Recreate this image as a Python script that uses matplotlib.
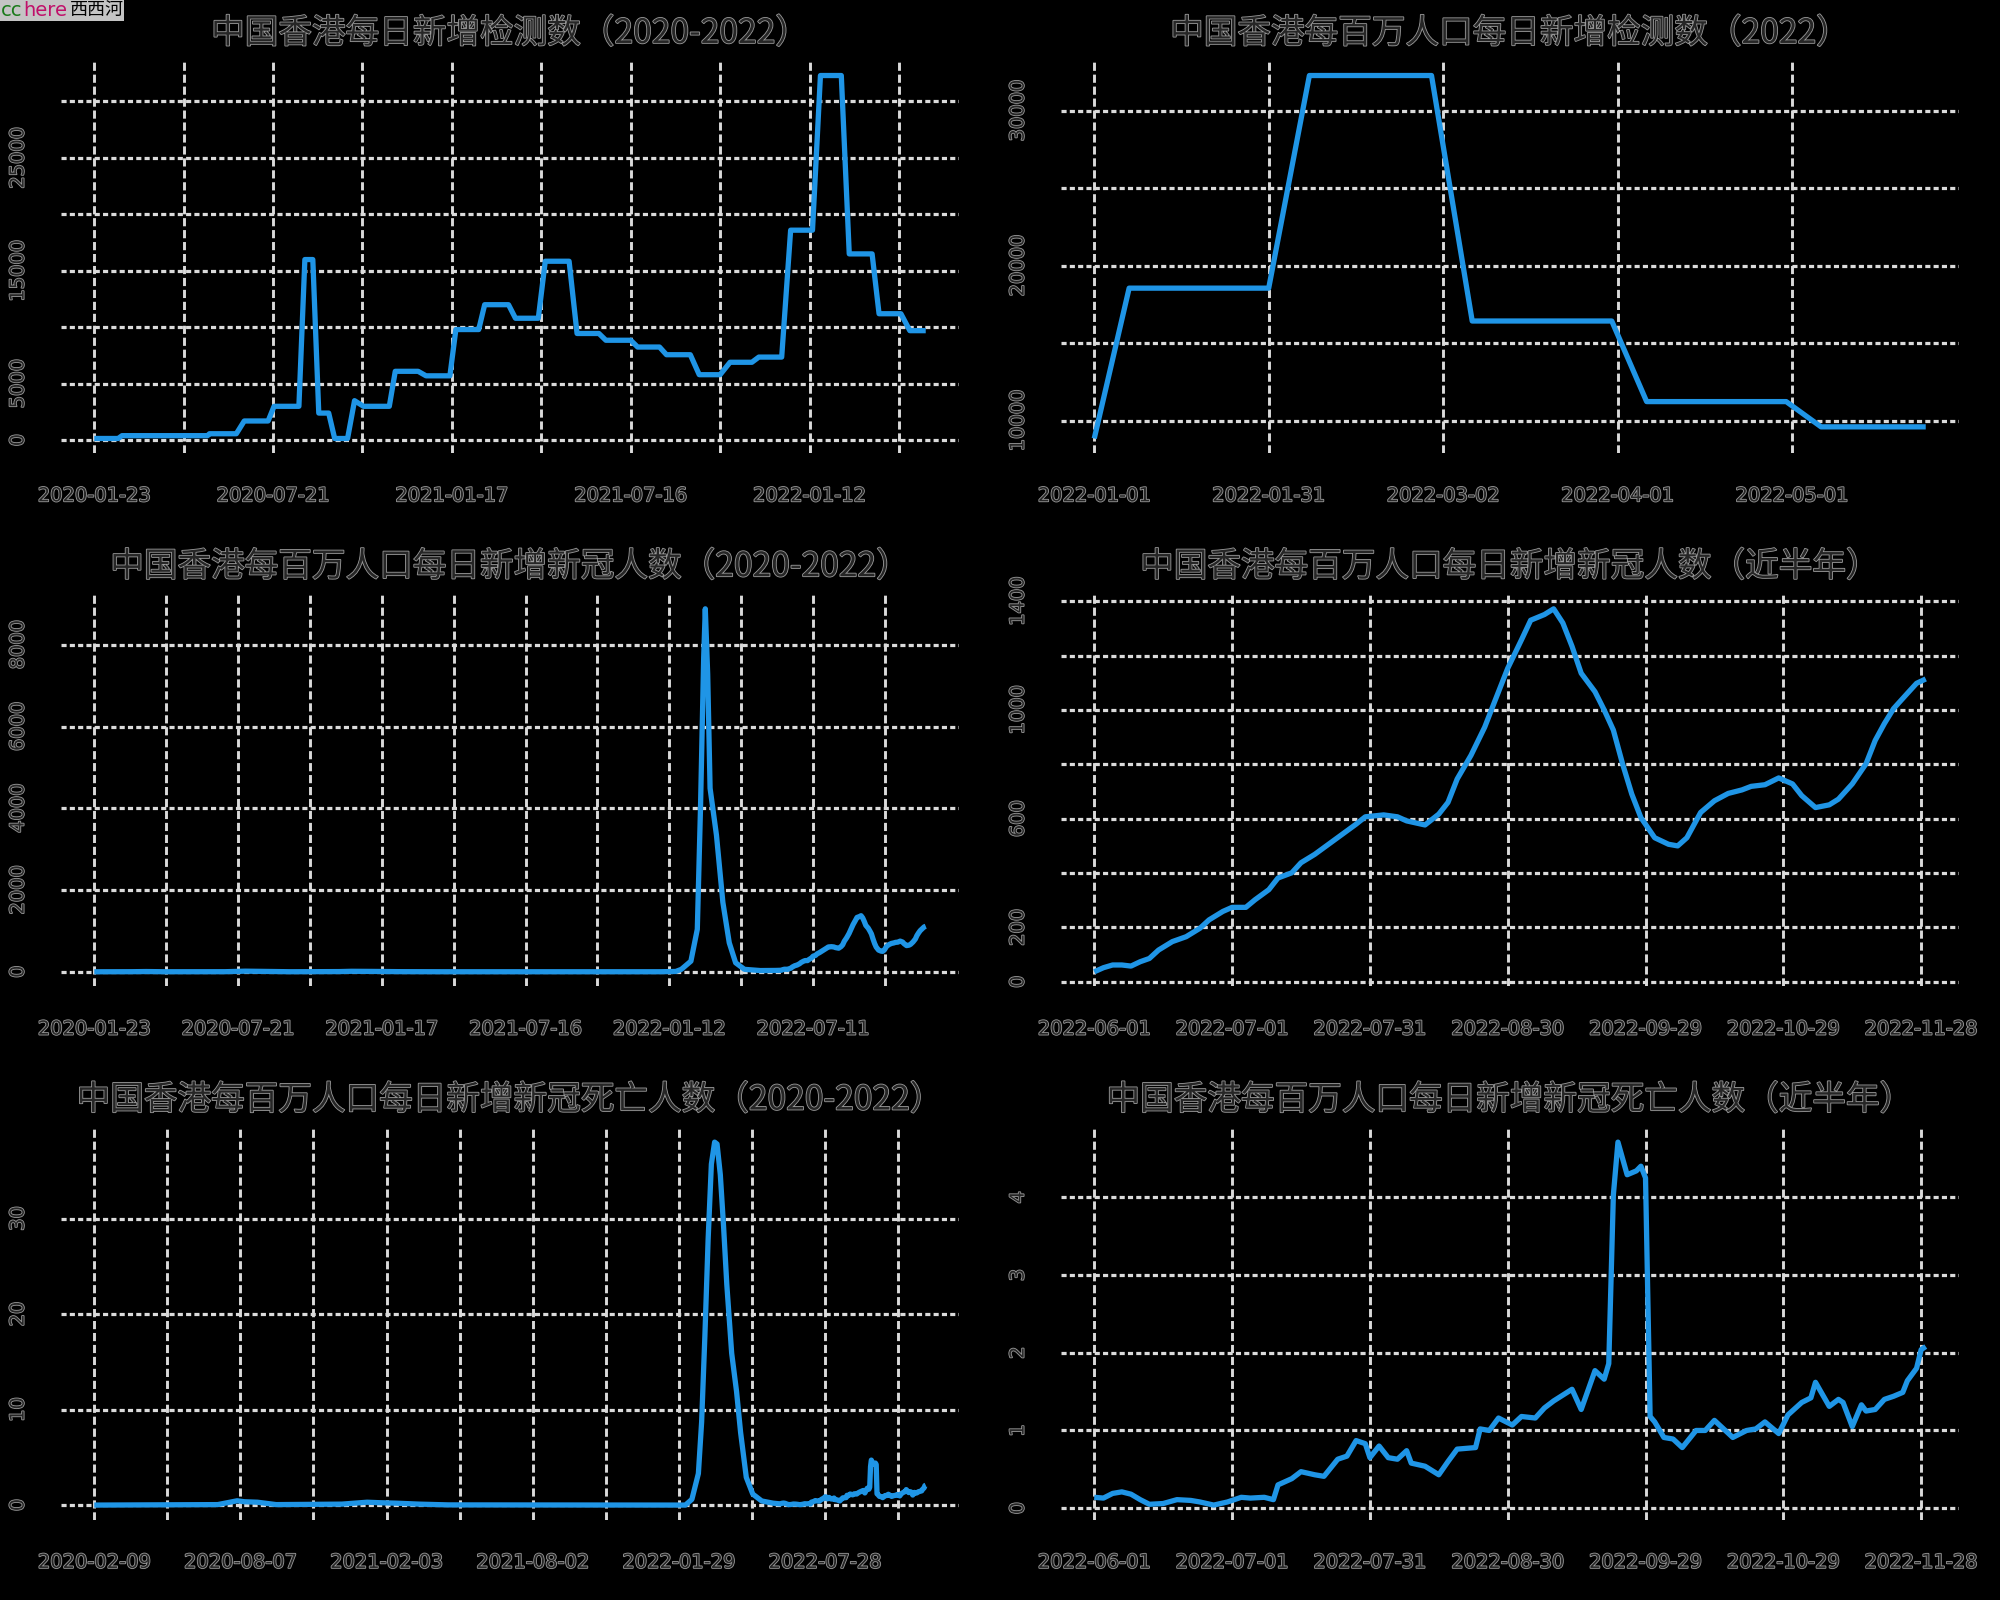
import numpy as np
import matplotlib
matplotlib.use("Agg")
import matplotlib.pyplot as plt
import matplotlib.patheffects as pe
from matplotlib.patches import Rectangle

plt.rcParams['font.family'] = ['DejaVu Sans', 'Noto Sans CJK SC']

BLUE = "#1f95e6"
GRID = "#dadada"
TEXT = "#262626"
HALO = [pe.withStroke(linewidth=1.2, foreground="#9a9a9a")]
CJK = ['Noto Sans CJK SC', 'DejaVu Sans']

# ---- panel 1: daily tests 2020-2022
tests_dates = ['2020-01-23', '2020-02-16', '2020-02-20', '2020-05-16', '2020-05-18', '2020-06-14',
               '2020-06-22', '2020-07-16', '2020-07-22', '2020-08-16', '2020-08-22', '2020-08-30',
               '2020-09-05', '2020-09-15', '2020-09-21', '2020-10-04', '2020-10-11', '2020-10-20',
               '2020-11-15', '2020-11-21', '2020-12-14', '2020-12-22', '2021-01-15', '2021-01-21',
               '2021-02-13', '2021-02-19', '2021-03-15', '2021-03-22', '2021-04-14', '2021-04-21',
               '2021-05-15', '2021-05-23', '2021-06-14', '2021-06-21', '2021-07-16', '2021-07-23',
               '2021-08-14', '2021-08-21', '2021-09-14', '2021-09-23', '2021-10-14', '2021-10-24',
               '2021-11-15', '2021-11-22', '2021-12-15', '2021-12-24', '2022-01-15', '2022-01-23',
               '2022-02-13', '2022-02-21', '2022-03-16', '2022-03-23', '2022-04-14', '2022-04-23',
               '2022-05-09']
tests_vals = [150, 150, 400, 400, 570, 570, 1700, 1700, 3000, 3000, 16000, 16000,
              2400, 2400, 150, 150, 3500, 3000, 3000, 6100, 6100, 5700, 5700, 9800,
              9800, 12000, 12000, 10800, 10800, 15850, 15850, 9450, 9450, 8850, 8850, 8250,
              8250, 7570, 7570, 5800, 5800, 6900, 6900, 7360, 7360, 18600, 18600, 32300,
              32300, 16500, 16500, 11200, 11200, 9700, 9700]

# ---- panel 2: tests per million, 2022
tpm_dates = ['2022-01-01', '2022-01-07', '2022-01-31', '2022-02-07', '2022-02-28', '2022-03-07',
             '2022-03-31', '2022-04-06', '2022-04-30', '2022-05-06', '2022-05-24']
tpm_vals = [8850, 18550, 18550, 32270, 32270, 16430, 16430, 11230, 11230, 9600, 9600]

# ---- cases per million, 2020 .. 2022-05
cases_early_dates = ['2020-01-23', '2020-03-10', '2020-03-28', '2020-04-20', '2020-07-05', '2020-07-30',
                     '2020-08-20', '2020-09-25', '2020-11-25', '2020-12-10', '2021-01-05', '2021-02-10',
                     '2021-04-01', '2021-12-31', '2022-01-20', '2022-01-27', '2022-02-08', '2022-02-16',
                     '2022-02-20', '2022-02-24', '2022-02-26', '2022-03-01', '2022-03-04', '2022-03-12',
                     '2022-03-20', '2022-03-28', '2022-04-05', '2022-04-16', '2022-05-06', '2022-05-25']
cases_early_vals = [0, 2, 6, 1, 2, 15, 10, 1, 5, 12, 9, 3,
                    1, 1, 8, 60, 260, 1040, 4000, 7700, 8880, 7280, 4490, 3340,
                    1700, 710, 220, 60, 30, 33]

# ---- cases per million, last half year (days after 2022-06-01)
recent_start = '2022-06-01'
cases_days = [0, 2, 4, 6, 8, 10, 12, 14, 17, 20, 23, 25, 28, 30, 33, 35, 38, 40, 43, 45,
              48, 51, 54, 57, 59, 63, 66, 68, 72, 75, 77, 79, 82, 85, 87, 90, 93, 95, 98, 100,
              102, 104, 106, 109, 111, 113, 115, 117, 119, 122, 125, 127, 129, 132, 135, 138,
              141, 143, 146, 149, 152, 154, 157, 160, 162, 165, 168, 170, 172, 174, 177, 179, 181]
cases_vals = [37, 52, 62, 62, 58, 74, 86, 117, 148, 166, 197, 228, 259, 274, 274, 302, 339, 382, 401, 438,
              469, 506, 543, 580, 607, 614, 607, 592, 577, 617, 660, 746, 833, 937, 1024, 1153, 1258, 1330, 1351, 1372,
              1320, 1234, 1135, 1067, 1000, 926, 802, 691, 604, 530, 506, 500, 530, 623, 666, 693,
              706, 719, 725, 750, 728, 685, 641, 651, 672, 728, 802, 888, 950, 1005, 1061, 1098, 1114]

# ---- deaths per million, 2020 .. 2022-05
deaths_early_dates = ['2020-02-09', '2020-07-10', '2020-08-03', '2020-08-12', '2020-08-28', '2020-09-20',
                      '2020-12-10', '2021-01-10', '2021-01-25', '2021-02-15', '2021-03-15', '2021-04-20',
                      '2022-02-06', '2022-02-14', '2022-02-22', '2022-02-26', '2022-03-02', '2022-03-06',
                      '2022-03-10', '2022-03-14', '2022-03-17', '2022-03-21', '2022-03-25', '2022-03-29',
                      '2022-04-04', '2022-04-10', '2022-04-15', '2022-04-22', '2022-04-30', '2022-05-11',
                      '2022-05-25']
deaths_early_vals = [0, 0.05, 0.45, 0.35, 0.3, 0.05, 0.1, 0.3, 0.25, 0.2, 0.1, 0.02,
                     0, 0.6, 3.3, 8.7, 17.7, 27.8, 35.7, 38.0, 37.8, 34.6, 29.2, 23.1,
                     15.9, 11.9, 7.6, 2.9, 1.15, 0.43, 0.2]

# ---- deaths per million, last half year (days after 2022-06-01)
deaths_days = [0, 2, 4, 6, 8, 10, 12, 15, 18, 21, 23, 26, 29, 32, 34, 37, 39, 40, 43, 45,
               48, 50, 53, 55, 57, 59, 60, 62, 64, 66, 68, 69, 72, 75, 77, 79, 83, 84, 86, 88,
               91, 93, 96, 98, 100, 104, 106, 109, 111, 112, 113, 114, 116, 118, 119, 120, 121, 122,
               124, 126, 128, 131, 133, 135, 137, 139, 142, 144, 146, 149, 151, 154, 156, 157, 160,
               162, 163, 165, 167, 168, 170, 172, 174, 176, 177, 179, 180, 181]
deaths_vals = [0.14, 0.13, 0.19, 0.21, 0.18, 0.11, 0.05, 0.06, 0.11, 0.10, 0.08, 0.04, 0.08, 0.14, 0.13, 0.14, 0.11, 0.30, 0.38, 0.47,
               0.43, 0.41, 0.63, 0.67, 0.87, 0.83, 0.65, 0.80, 0.65, 0.63, 0.74, 0.58, 0.54, 0.43, 0.60, 0.76, 0.78, 1.02, 1.00, 1.16,
               1.07, 1.18, 1.16, 1.29, 1.38, 1.53, 1.27, 1.77, 1.66, 1.86, 4.03, 4.71, 4.29, 4.34, 4.40, 4.25, 1.18, 1.11,
               0.91, 0.89, 0.78, 1.00, 1.00, 1.13, 1.02, 0.91, 1.00, 1.02, 1.11, 0.96, 1.20, 1.36, 1.42, 1.62, 1.31,
               1.40, 1.36, 1.05, 1.33, 1.25, 1.27, 1.40, 1.44, 1.49, 1.64, 1.80, 2.04, 2.08]

# ---- axis ticks (R drops labels that would overlap -> '')
ticks_2020a = ['2020-01-23', '2020-04-22', '2020-07-21', '2020-10-19', '2021-01-17', '2021-04-17',
               '2021-07-16', '2021-10-14', '2022-01-12', '2022-04-12', '2022-07-11', '2022-10-09']
ticks_2020b = ['2020-02-09', '2020-05-09', '2020-08-07', '2020-11-05', '2021-02-03', '2021-05-04',
               '2021-08-02', '2021-10-31', '2022-01-29', '2022-04-29', '2022-07-28', '2022-10-26']
ticks_2022 = ['2022-01-01', '2022-01-31', '2022-03-02', '2022-04-01', '2022-05-01']
ticks_half = ['2022-06-01', '2022-07-01', '2022-07-31', '2022-08-30', '2022-09-29', '2022-10-29', '2022-11-28']

titles = ['中国香港每日新增检测数（2020-2022）',
          '中国香港每百万人口每日新增检测数（2022）',
          '中国香港每百万人口每日新增新冠人数（2020-2022）',
          '中国香港每百万人口每日新增新冠人数（近半年）',
          '中国香港每百万人口每日新增新冠死亡人数（2020-2022）',
          '中国香港每百万人口每日新增新冠死亡人数（近半年）']


def d64(seq):
    return np.array(seq, dtype='datetime64[D]')


def every_other(ticks):
    return [t if i % 2 == 0 else '' for i, t in enumerate(ticks)]


recent_dates = np.datetime64(recent_start) + np.array(cases_days)
recent_ddates = np.datetime64(recent_start) + np.array(deaths_days)

panels = [
    (d64(tests_dates), tests_vals, ticks_2020a[:10], every_other(ticks_2020a[:10]),
     [0, 5000, 10000, 15000, 20000, 25000, 30000], ['0', '5000', '', '15000', '', '25000', '']),
    (d64(tpm_dates), tpm_vals, ticks_2022, ticks_2022,
     [10000, 15000, 20000, 25000, 30000], ['10000', '', '20000', '', '30000']),
    (np.concatenate([d64(cases_early_dates), recent_dates]), cases_early_vals + cases_vals,
     ticks_2020a, every_other(ticks_2020a),
     [0, 2000, 4000, 6000, 8000], ['0', '2000', '4000', '6000', '8000']),
    (recent_dates, cases_vals, ticks_half, ticks_half,
     [0, 200, 400, 600, 800, 1000, 1200, 1400], ['0', '200', '', '600', '', '1000', '', '1400']),
    (np.concatenate([d64(deaths_early_dates), recent_ddates]), deaths_early_vals + deaths_vals,
     ticks_2020b, every_other(ticks_2020b),
     [0, 10, 20, 30], ['0', '10', '20', '30']),
    (recent_ddates, deaths_vals, ticks_half, ticks_half,
     [0, 1, 2, 3, 4], ['0', '1', '2', '3', '4']),
]

W, H = 2000, 1600
fig = plt.figure(figsize=(20, 16), dpi=100, facecolor='black')

for k, (x, y, xt, xl, yt, yl) in enumerate(panels):
    r, c = divmod(k, 2)
    left = (c * 1000 + 61) / W
    top = (r * 533.3 + 61) / H
    ax = fig.add_axes([left, 1 - top - 392 / H, 898 / W, 392 / H])
    ax.set_facecolor('none')
    ax.plot(x, y, color=BLUE, lw=3.8, solid_joinstyle='round', solid_capstyle='butt', zorder=3)
    ax.margins(0.04)
    ax.set_xticks(d64(xt))
    ax.set_xticklabels(xl)
    ax.set_yticks(yt)
    ax.set_yticklabels(yl, rotation=90, va='center')
    ax.set_axisbelow(True)
    ax.yaxis.grid(True, color=GRID, lw=2.3, ls=(0, (1.6, 1.0)))
    ax.xaxis.grid(True, color=GRID, lw=2.1, ls=(0, (2.8, 1.3)))
    for s in ax.spines.values():
        s.set_visible(False)
    ax.tick_params(length=0, pad=24, labelsize=14, labelcolor=TEXT)
    for lab in ax.get_xticklabels() + ax.get_yticklabels():
        lab.set_path_effects(HALO)
    t = ax.set_title(titles[k], fontsize=24.2, family=CJK, color=TEXT, pad=13)
    t.set_path_effects(HALO)

# forum watermark, top-left
fig.patches.append(Rectangle((0, 1 - 21 / H), 124 / W, 21 / H, transform=fig.transFigure,
                             facecolor='#c4c4c4', edgecolor='none'))
fig.text(1 / W, 1 - 10 / H, 'cc', color='#1a7a1a', fontsize=14, va='center')
fig.text(23 / W, 1 - 10 / H, 'here', color='#c0106a', fontsize=14, va='center')
fig.text(70 / W, 1 - 10 / H, '西西河', color='black', fontsize=13, va='center', family=CJK)

fig.savefig('out.png', dpi=100, facecolor='black')
